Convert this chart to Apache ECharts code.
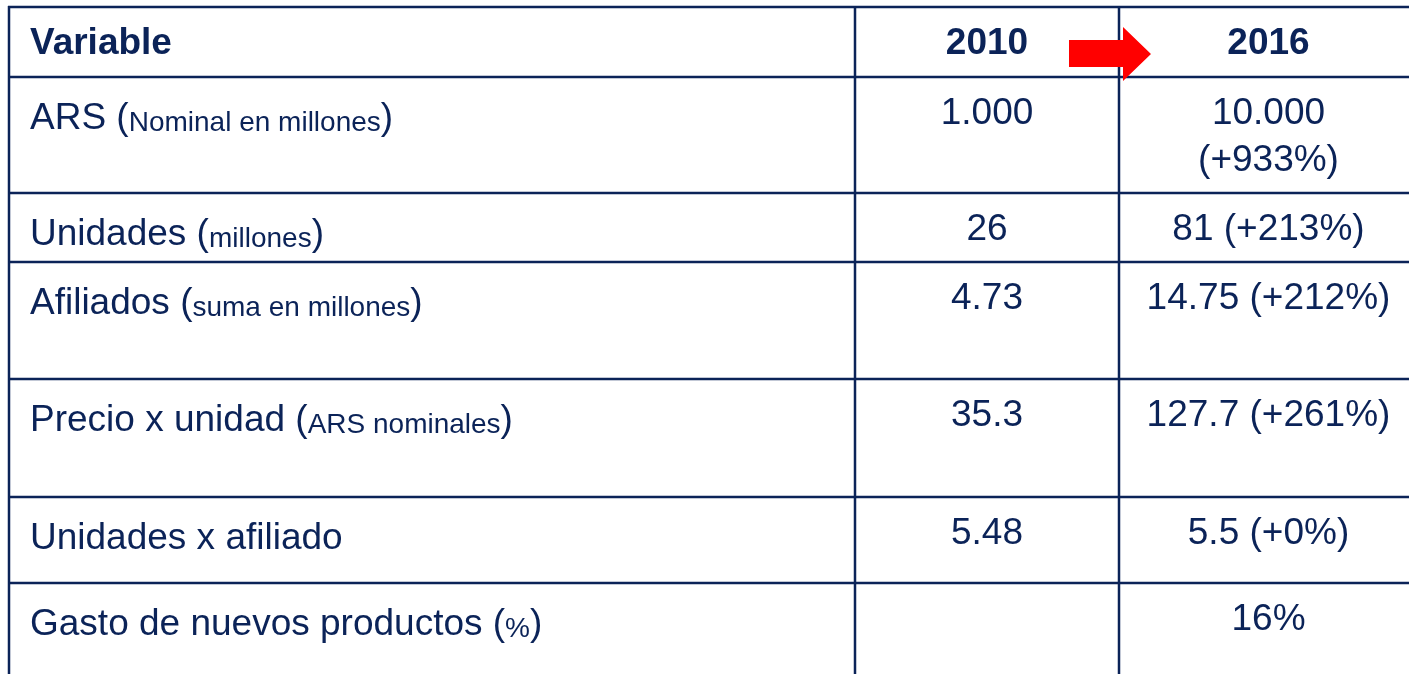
<!DOCTYPE html>
<html>
<head>
<meta charset="utf-8">
<script src="https://cdn.jsdelivr.net/npm/echarts@6/dist/echarts.min.js"></script>
<style>
  html, body { margin: 0; padding: 0; background: #fff; }
  #chart { width: 1409px; height: 674px; }
</style>
</head>
<body>
<div id="chart"></div>
<script>
// table content
const headers = ['Variable', '2010', '2016']
const variables = ['ARS', 'Unidades', 'Afiliados', 'Precio x unidad', 'Unidades x afiliado', 'Gasto de nuevos productos']
const units = ['Nominal en millones', 'millones', 'suma en millones', 'ARS nominales', '', '%']
const values2010 = ['1.000', '26', '4.73', '35.3', '5.48', '']
const values2016 = ['10.000', '81', '14.75', '127.7', '5.5', '16%']
const changes2016 = ['+933%', '+213%', '+212%', '+261%', '+0%', '']

// layout, in pixels of the 1409x674 canvas
const colEdges = [9, 855, 1119, 1418]
const rowEdges = [7, 77, 193, 262, 379, 497, 583, 700]
const wrapRows = [0]
const ink = '#0b2358'
const fontFamily = "'Liberation Sans', Arial, sans-serif"
const bigSize = 37
const smallSize = 28
const lineGap = 47

const chart = echarts.init(document.getElementById('chart'), null, { renderer: 'canvas' })

// one datum per cell: [col, row] where row 0 is the header
const cells = []
headers.forEach((h, c) => cells.push({ value: [c, 0], text: h, bold: true }))
variables.forEach((v, i) => {
  const label = units[i]
    ? '{b|' + v + ' (}{s|' + units[i] + '}{b|)}'
    : '{b|' + v + '}'
  cells.push({ value: [0, i + 1], text: label, rich: true })
  cells.push({ value: [1, i + 1], text: values2010[i] })
  let t = values2016[i]
  if (changes2016[i]) {
    t += (wrapRows.includes(i) ? '\n(' : ' (') + changes2016[i] + ')'
  }
  cells.push({ value: [2, i + 1], text: t })
})

const renderLines = (params, api) => {
  const children = []
  const right = colEdges[colEdges.length - 1]
  const bottom = rowEdges[rowEdges.length - 1]
  rowEdges.slice(0, -1).forEach((y) => {
    const a = api.coord([colEdges[0], y])
    const b = api.coord([right, y])
    children.push({
      type: 'line',
      shape: { x1: a[0] - 1, y1: a[1], x2: b[0], y2: b[1] },
      style: { stroke: ink, lineWidth: 2.5 }
    })
  })
  colEdges.slice(0, -1).forEach((x) => {
    const a = api.coord([x, rowEdges[0]])
    const b = api.coord([x, bottom])
    children.push({
      type: 'line',
      shape: { x1: a[0], y1: a[1] - 1, x2: b[0], y2: b[1] },
      style: { stroke: ink, lineWidth: 2.5 }
    })
  })
  return { type: 'group', children }
}

const renderCell = (params, api) => {
  const cell = cells[params.dataIndex]
  const col = api.value(0)
  const row = api.value(1)
  const x = col === 0
    ? colEdges[0] + 21
    : (colEdges[col] + colEdges[col + 1]) / 2
  const y = rowEdges[row] + 13
  const p = api.coord([x, y])
  const style = {
    text: cell.text,
    x: p[0],
    y: p[1],
    fill: ink,
    align: col === 0 ? 'left' : 'center',
    verticalAlign: 'top',
    fontFamily,
    fontSize: bigSize,
    fontWeight: cell.bold ? 'bold' : 'normal',
    lineHeight: lineGap
  }
  if (cell.rich) {
    style.rich = {
      b: { fontFamily, fontSize: bigSize, lineHeight: lineGap, fill: ink, verticalAlign: 'bottom' },
      s: { fontFamily, fontSize: smallSize, lineHeight: 41, fill: ink, verticalAlign: 'bottom' }
    }
  }
  return { type: 'text', style }
}

// red arrow sitting on the 2010 | 2016 border of the header
const renderArrow = (params, api) => {
  const bx = colEdges[api.value(0)]
  const pts = [
    [bx - 50, 40], [bx + 4, 40], [bx + 4, 27], [bx + 32, 54],
    [bx + 4, 81], [bx + 4, 67], [bx - 50, 67]
  ].map((q) => api.coord(q))
  return { type: 'polygon', shape: { points: pts }, style: { fill: '#ff0000' } }
}

const option = {
  animation: false,
  backgroundColor: '#ffffff',
  grid: { left: 0, right: 0, top: 0, bottom: 0 },
  xAxis: { type: 'value', min: 0, max: 1409, show: false },
  yAxis: { type: 'value', min: 0, max: 674, inverse: true, show: false },
  series: [
    {
      name: 'lineas',
      type: 'custom',
      renderItem: renderLines,
      data: [[0, 0]],
      clip: false,
      silent: true
    },
    {
      name: 'celdas',
      type: 'custom',
      renderItem: renderCell,
      data: cells.map((c) => c.value),
      clip: false,
      silent: true
    },
    {
      name: 'flecha',
      type: 'custom',
      renderItem: renderArrow,
      data: [[2, 0]],
      clip: false,
      silent: true,
      z: 5
    }
  ]
}

chart.setOption(option)
</script>
</body>
</html>
